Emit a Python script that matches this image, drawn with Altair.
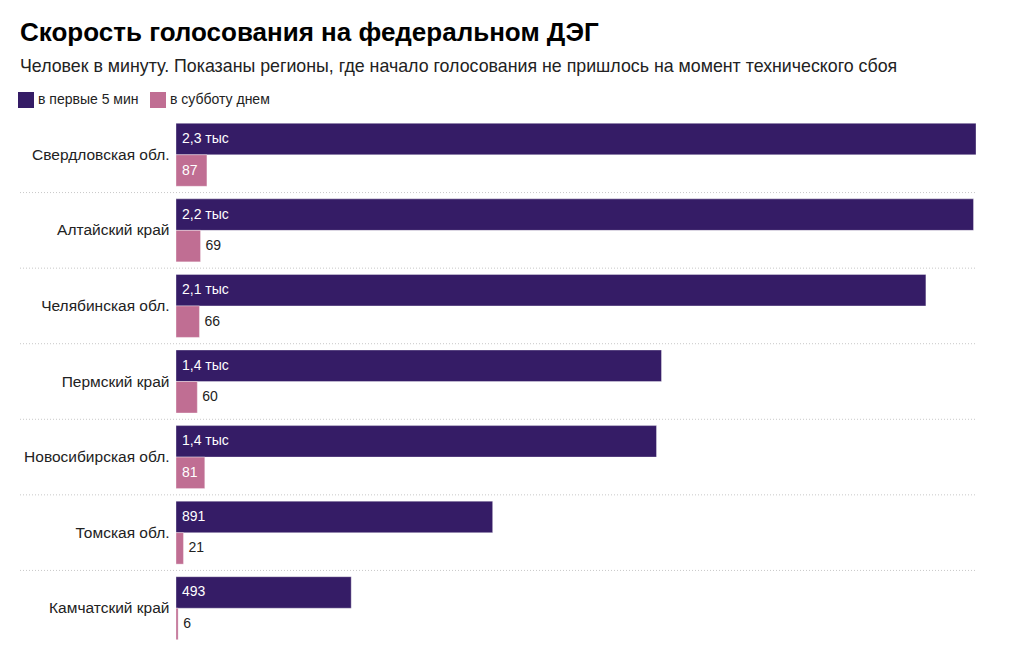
import altair as alt
import pandas as pd

regions = ["Свердловская обл.", "Алтайский край", "Челябинская обл.", "Пермский край",
           "Новосибирская обл.", "Томская обл.", "Камчатский край"]
series = ["в первые 5 мин", "в субботу днем"]
first5 = [2251, 2244, 2110, 1366, 1352, 891, 493]
saturday = [87, 69, 66, 60, 81, 21, 6]
colors = ["#351c66", "#c06e93"]


def fmt(v):
    if v >= 1000:
        return f"{v / 1000:.1f}".replace(".", ",") + " тыс"
    return str(v)


rows = []
for r, a, b in zip(regions, first5, saturday):
    rows.append({"region": r, "series": series[0], "value": a, "label": fmt(a)})
    rows.append({"region": r, "series": series[1], "value": b, "label": fmt(b)})
df = pd.DataFrame(rows)

FONT = "Liberation Sans"
W, H = 800, 529

y_enc = alt.Y("region:N", sort=regions, title=None,
              scale=alt.Scale(paddingInner=0, paddingOuter=0),
              axis=alt.Axis(ticks=False, domain=False, grid=False, labelFontSize=15.5,
                            labelColor="#222", labelPadding=7, labelFont=FONT))
yoff = alt.YOffset("series:N", sort=series,
                   scale=alt.Scale(paddingInner=0, paddingOuter=0.2))
x_scale = alt.Scale(domain=[0, max(first5)], nice=False, zero=True)

base = alt.Chart(df)

bars = base.mark_bar(stroke="white", strokeWidth=1, strokeOpacity=0.35).encode(
    y=y_enc,
    yOffset=yoff,
    x=alt.X("value:Q", scale=x_scale, axis=None),
    color=alt.Color("series:N", sort=series,
                    scale=alt.Scale(domain=series, range=colors),
                    legend=alt.Legend(orient="none", legendX=-158, legendY=-25,
                                      direction="horizontal", title=None,
                                      symbolType="square", symbolSize=256,
                                      symbolStrokeWidth=0, labelFontSize=14,
                                      labelColor="#222", labelFont=FONT,
                                      labelOffset=4, columnPadding=11)),
)

rules = base.transform_filter(
    (alt.datum.series == series[0]) & (alt.datum.region != regions[0])
).mark_rule(color="#c8c8c8", strokeDash=[1, 2], strokeWidth=1).encode(
    y=alt.Y("region:N", sort=regions, bandPosition=0),
    x=alt.value(-156),
    x2=alt.value(W),
)

inside = base.transform_filter(
    (alt.datum.series == series[0]) | (alt.datum.value >= 75)
).mark_text(align="left", baseline="middle", dx=6, fontSize=14, font=FONT,
            color="white").encode(
    y=alt.Y("region:N", sort=regions),
    yOffset=yoff,
    x=alt.datum(0, scale=x_scale, axis=None),
    text="label:N",
)

outside = base.transform_filter(
    (alt.datum.series == series[1]) & (alt.datum.value < 75)
).mark_text(align="left", baseline="middle", dx=5, fontSize=14, font=FONT,
            color="#222").encode(
    y=alt.Y("region:N", sort=regions),
    yOffset=yoff,
    x=alt.X("value:Q", scale=x_scale, axis=None),
    text="label:N",
)

chart = alt.layer(rules, bars, inside, outside).properties(
    width=W, height=H,
    autosize=alt.AutoSizeParams(type="none"),
    padding={"left": 168, "top": 109, "right": 40, "bottom": 0},
    title=alt.Title(
        text="Скорость голосования на федеральном ДЭГ",
        subtitle="Человек в минуту. Показаны регионы, где начало голосования не пришлось на момент технического сбоя",
        anchor="start", frame="group", dx=-156, offset=16,
        font=FONT, fontSize=26, fontWeight="bold", color="#000",
        subtitleFont=FONT, subtitleFontSize=17.8, subtitleColor="#222",
        subtitlePadding=12,
    ),
).configure(font=FONT, view=alt.ViewConfig(stroke=None))

chart.save("out.html", embed_options={"renderer": "svg", "actions": False})
